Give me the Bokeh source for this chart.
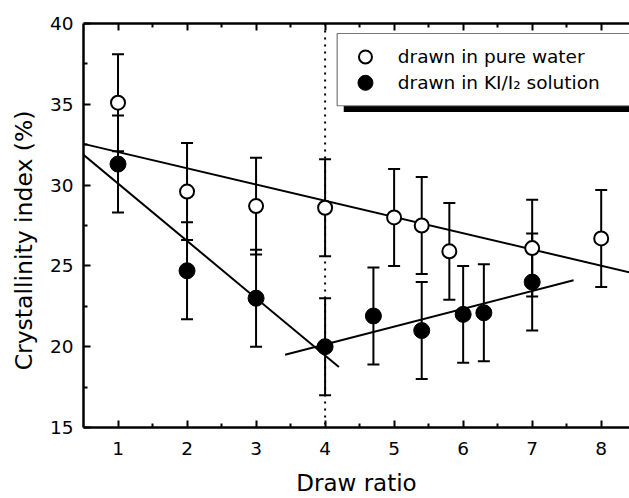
from bokeh.plotting import figure
from bokeh.models import (ColumnDataSource, Range1d, LinearAxis, FixedTicker,
                          Span)
from bokeh.core.properties import value
from bokeh.embed import file_html
from bokeh.resources import INLINE

# ---------------- data ----------------
water_x = [1, 2, 3, 4, 5, 5.4, 5.8, 7, 8]
water_y = [35.1, 29.6, 28.7, 28.6, 28.0, 27.5, 25.9, 26.1, 26.7]
water_err = [3.0, 3.0, 3.0, 3.0, 3.0, 3.0, 3.0, 3.0, 3.0]

ki_x = [1, 2, 3, 4, 4.7, 5.4, 6, 6.3, 7]
ki_y = [31.3, 24.7, 23.0, 20.0, 21.9, 21.0, 22.0, 22.1, 24.0]
ki_err = [3.0, 3.0, 3.0, 3.0, 3.0, 3.0, 3.0, 3.0, 3.0]

fit_water_x = [0.5, 8.41]
fit_water_y = [32.55, 24.6]
fit_ki1_x = [0.5, 4.2]
fit_ki1_y = [31.87, 18.74]
fit_ki2_x = [3.42, 7.6]
fit_ki2_y = [19.5, 24.11]

transition_x = 4

x_ticks = [1, 2, 3, 4, 5, 6, 7, 8]
x_minor = [1.5, 2.5, 3.5, 4.5, 5.5, 6.5, 7.5]
y_ticks = [15, 20, 25, 30, 35, 40]
y_minor = [17.5, 22.5, 27.5, 32.5, 37.5]

labels = ["drawn in pure water", "drawn in KI/I\u2082 solution"]

FONT = "DejaVu Sans"

# ---------------- figure ----------------
p = figure(width=629, height=498, output_backend="svg", toolbar_location=None,
           x_range=Range1d(0.5, 8.41), y_range=Range1d(15, 40),
           min_border_left=83, min_border_right=0, min_border_top=23,
           min_border_bottom=69, x_axis_label="Draw ratio",
           y_axis_label="Crystallinity index (%)" + "\u00a0" * 4)
p.grid.visible = False
p.outline_line_color = None
p.background_fill_color = "white"
p.border_fill_color = "white"

def style_axis(ax, ticks, minor):
    ax.ticker = FixedTicker(ticks=ticks, minor_ticks=minor)
    ax.axis_line_width = 2.5
    ax.axis_line_color = "black"
    ax.major_tick_in = 7
    ax.major_tick_out = 0
    ax.major_tick_line_width = 2
    ax.minor_tick_in = 4
    ax.minor_tick_out = 0
    ax.minor_tick_line_width = 2
    ax.major_label_text_font = FONT
    ax.major_label_text_font_size = "18.5px"
    ax.major_label_text_color = "black"
    ax.axis_label_text_font = FONT
    ax.axis_label_text_font_style = "normal"
    ax.axis_label_text_color = "black"

style_axis(p.xaxis[0], x_ticks, x_minor)
p.xaxis[0].major_label_standoff = 14
p.xaxis[0].axis_label_standoff = 12
p.xaxis[0].axis_label_text_font_size = "23px"
style_axis(p.yaxis[0], y_ticks, y_minor)
p.yaxis[0].major_label_standoff = 10
p.yaxis[0].axis_label_standoff = 9
p.yaxis[0].axis_label_text_font_size = "23.5px"

top = LinearAxis()
style_axis(top, x_ticks, x_minor)
top.major_label_overrides = {t: "" for t in x_ticks}
top.major_label_standoff = 0
p.add_layout(top, "above")

# vertical dotted line at the transition
span = Span(location=transition_x, dimension="height", line_color="black",
            line_width=2, line_dash="2 5", level="underlay")
p.add_layout(span)

# ---------------- error bars ----------------
w_src = ColumnDataSource(dict(
    x=water_x, y=water_y,
    lo=[a - e for a, e in zip(water_y, water_err)],
    hi=[a + e for a, e in zip(water_y, water_err)]))
k_src = ColumnDataSource(dict(
    x=ki_x, y=ki_y,
    lo=[a - e for a, e in zip(ki_y, ki_err)],
    hi=[a + e for a, e in zip(ki_y, ki_err)]))

for src in (w_src, k_src):
    p.segment(x0="x", y0="lo", x1="x", y1="hi", source=src,
              line_color="black", line_width=2)
    p.scatter(x="x", y="lo", source=src, marker="dash", size=12,
              line_color="black", line_width=2)
    p.scatter(x="x", y="hi", source=src, marker="dash", size=12,
              line_color="black", line_width=2)

# ---------------- fit lines ----------------
p.line(fit_water_x, fit_water_y, line_color="black", line_width=2)
p.line(fit_ki1_x, fit_ki1_y, line_color="black", line_width=2)
p.line(fit_ki2_x, fit_ki2_y, line_color="black", line_width=2)

# ---------------- markers ----------------
p.scatter(x="x", y="y", source=k_src, marker="circle", size=16,
          fill_color="black", line_color="black", line_width=1)
p.scatter(x="x", y="y", source=w_src, marker="circle", size=14,
          fill_color="white", line_color="black", line_width=2)

# ---------------- legend (drawn by hand, with shadow) ----------------
p.quad(left=[4.27], right=[8.6], top=[34.91], bottom=[34.52],
       fill_color="black", line_color=None)
p.quad(left=[4.175], right=[8.6], top=[39.38], bottom=[34.91],
       fill_color="white", line_color="#777777", line_width=1.2)
p.scatter(x=[4.585], y=[37.93], marker="circle", size=13,
          fill_color="white", line_color="black", line_width=2)
p.scatter(x=[4.585], y=[36.33], marker="circle", size=15,
          fill_color="black", line_color="black")
p.text(x=[5.053, 5.053], y=[37.93, 36.33], text=labels,
       text_font=value(FONT), text_font_size="18.5px",
       text_baseline="middle", text_align="left", text_color="black")

open("out.html", "w").write(file_html(p, INLINE))
